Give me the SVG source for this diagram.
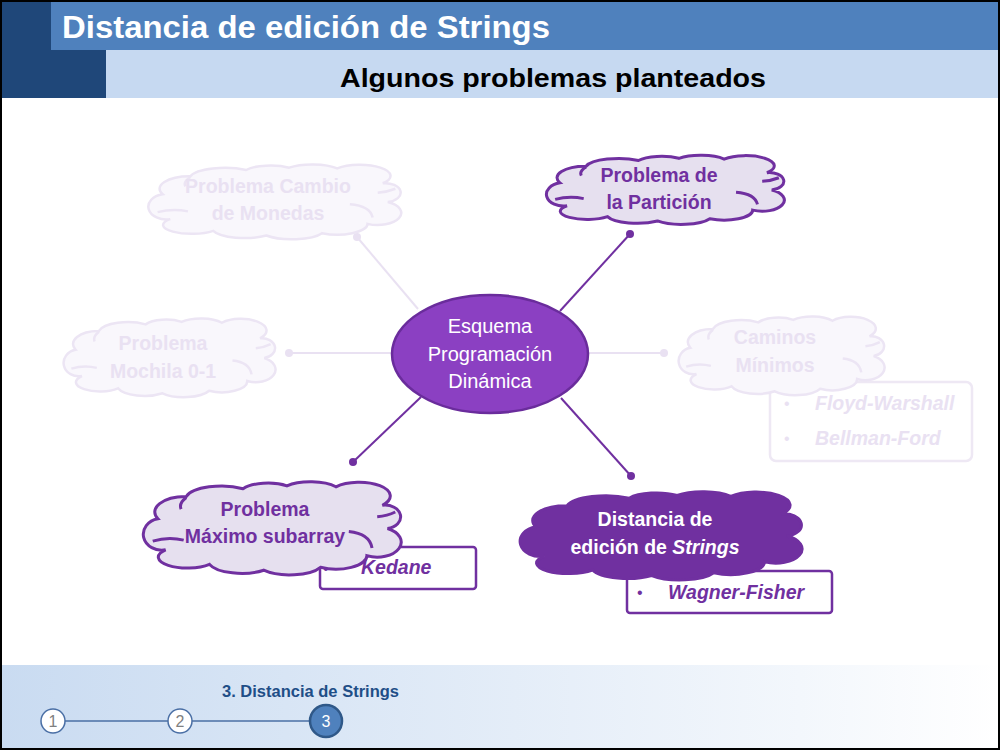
<svg xmlns="http://www.w3.org/2000/svg" xmlns:xlink="http://www.w3.org/1999/xlink" width="1000" height="750" viewBox="0 0 1000 750">
<style>
.t{font-family:"Liberation Sans",Arial,sans-serif;}
.act{fill:#E6E0EF;stroke:#7030A0;stroke-width:3;}
.fad{fill:#F9F7FC;stroke:#ECE5F4;stroke-width:2.5;}
.dark{fill:#7030A0;stroke:#7030A0;stroke-width:3;}
.ia{fill:none;stroke:#7030A0;stroke-width:3;}
.if{fill:none;stroke:#ECE5F4;stroke-width:2.5;}
.lbl{font-family:"Liberation Sans",Arial,sans-serif;font-weight:bold;font-size:19.5px;text-anchor:middle;}
.pa{fill:#7030A0;}
.pf{fill:#E9E1F2;}
.box{fill:#FFFFFF;stroke:#7030A0;stroke-width:2.5;}
.boxf{fill:#FFFFFF;stroke:#EEE8F4;stroke-width:2.5;}
.li{font-family:"Liberation Sans",Arial,sans-serif;font-weight:bold;font-style:italic;font-size:19.5px;}
.con{stroke-width:2;fill:none;}
</style>
<defs>
<path id="cloud" vector-effect="non-scaling-stroke" d="M 5,40 A 12 16 0 0 1 16,17 A 14 14 0 0 1 38,9 A 11 11 0 0 1 55,6 A 12 12 0 0 1 74,7 A 11 13 0 0 1 92,26 A 6 12 0 0 1 94,50 A 9 15 0 0 1 86,78 A 12 14 0 0 1 68,90 A 13 13 0 0 1 46,93 A 13 13 0 0 1 25,87 A 11 11 0 0 1 8,72 A 7 16 0 0 1 5,40 Z"/>
<path id="inner" vector-effect="non-scaling-stroke" d="M 3,63 Q 9,58 15,62 M 16,18 Q 13,24 14,30 M 79,53 Q 87,55 88,70 M 90,38 Q 94,37 97,33"/>
<linearGradient id="foot" x1="0" y1="0" x2="1" y2="0">
<stop offset="0" stop-color="#C9DBF1"/>
<stop offset="0.8" stop-color="#F3F7FC"/>
<stop offset="1" stop-color="#FFFFFF"/>
</linearGradient>
</defs>
<rect x="0" y="0" width="1000" height="750" fill="#FFFFFF"/>
<g id="header">
<rect x="0" y="0" width="106" height="98" fill="#1F4779"/>
<rect x="51" y="0" width="949" height="50" fill="#4F81BD"/>
<rect x="106" y="50" width="894" height="48" fill="#C6D9F1"/>
<text class="t" x="62" y="38" font-size="31" font-weight="bold" fill="#FFFFFF" textLength="488" lengthAdjust="spacingAndGlyphs">Distancia de edición de Strings</text>
<text class="t" x="340" y="87" font-size="26" font-weight="bold" fill="#000000" textLength="426" lengthAdjust="spacingAndGlyphs">Algunos problemas planteados</text>
</g>
<g id="connectors">
<line class="con" x1="560" y1="311" x2="630" y2="234" stroke="#7030A0"/>
<circle cx="630" cy="234" r="4" fill="#7030A0"/>
<line class="con" x1="418" y1="309" x2="357" y2="237" stroke="#E9E1F2"/>
<circle cx="357" cy="237" r="4" fill="#E9E1F2"/>
<line class="con" x1="392" y1="353" x2="289" y2="353" stroke="#E9E1F2"/>
<circle cx="289" cy="353" r="4" fill="#E9E1F2"/>
<line class="con" x1="589" y1="353" x2="664" y2="353" stroke="#E9E1F2"/>
<circle cx="664" cy="353" r="4" fill="#E9E1F2"/>
<line class="con" x1="421" y1="397" x2="353" y2="462" stroke="#7030A0"/>
<circle cx="353" cy="462" r="4" fill="#7030A0"/>
<line class="con" x1="561" y1="398" x2="631" y2="476" stroke="#7030A0"/>
<circle cx="631" cy="476" r="4" fill="#7030A0"/>
</g>
<g id="center">
<ellipse cx="490" cy="354" rx="98" ry="59" fill="#8B40C2" stroke="#6A2C9C" stroke-width="2.5"/>
<text class="t" font-size="20" fill="#FFFFFF" text-anchor="middle"><tspan x="490" y="333">Esquema</tspan><tspan x="490" y="361">Programación</tspan><tspan x="490" y="388">Dinámica</tspan></text>
</g>
<g id="particion">
<g transform="translate(548,154) scale(2.38,0.72)"><use xlink:href="#cloud" class="act"/><use xlink:href="#inner" class="ia"/></g>
<text class="lbl pa"><tspan x="659" y="182">Problema de</tspan><tspan x="659" y="209">la Partición</tspan></text>
</g>
<g id="cambio">
<g transform="translate(150,163) scale(2.53,0.78)"><use xlink:href="#cloud" class="fad"/><use xlink:href="#inner" class="if"/></g>
<text class="lbl pf"><tspan x="268" y="193">Problema Cambio</tspan><tspan x="268" y="220">de Monedas</tspan></text>
</g>
<g id="mochila">
<g transform="translate(65,317) scale(2.12,0.82)"><use xlink:href="#cloud" class="fad"/><use xlink:href="#inner" class="if"/></g>
<text class="lbl pf"><tspan x="163" y="350">Problema</tspan><tspan x="163" y="378">Mochila 0-1</tspan></text>
</g>
<g id="caminos">
<rect class="boxf" x="770" y="382" width="202" height="79" rx="6"/>
<g transform="translate(680,315) scale(2.06,0.82)"><use xlink:href="#cloud" class="fad"/><use xlink:href="#inner" class="if"/></g>
<text class="lbl pf"><tspan x="775" y="344">Caminos</tspan><tspan x="775" y="372">Mínimos</tspan></text>
<text class="t pf" x="784" y="409" font-size="16">•</text>
<text class="li pf" x="815" y="410">Floyd-Warshall</text>
<text class="t pf" x="784" y="444" font-size="16">•</text>
<text class="li pf" x="815" y="445">Bellman-Ford</text>
</g>
<g id="maximo">
<rect class="box" x="320" y="547" width="156" height="42" rx="3"/>
<text class="t pa" x="323" y="574" font-size="16">•</text>
<text class="li pa" x="361" y="574">Kedane</text>
<g transform="translate(145,480) scale(2.58,0.97)"><use xlink:href="#cloud" class="act"/><use xlink:href="#inner" class="ia"/></g>
<text class="lbl pa"><tspan x="265" y="516">Problema</tspan><tspan x="265" y="543">Máximo subarray</tspan></text>
</g>
<g id="distancia">
<rect class="box" x="627" y="571" width="205" height="42" rx="3"/>
<text class="t pa" x="637" y="598" font-size="16">•</text>
<text class="li pa" x="668" y="599" font-size="19px">Wagner-Fisher</text>
<g transform="translate(522,490) scale(2.82,0.92)"><use xlink:href="#cloud" class="dark"/></g>
<text class="lbl" fill="#FFFFFF"><tspan x="655" y="526">Distancia de</tspan><tspan x="655" y="554">edición de <tspan font-style="italic">Strings</tspan></tspan></text>
</g>
<g id="footer">
<rect x="0" y="665" width="1000" height="85" fill="url(#foot)"/>
<text class="t" x="222" y="697" font-size="16.5" font-weight="bold" fill="#1F4E87">3. Distancia de Strings</text>
<line x1="65" y1="721" x2="168" y2="721" stroke="#4A6FA5" stroke-width="1.5"/>
<line x1="192" y1="721" x2="310" y2="721" stroke="#4A6FA5" stroke-width="1.5"/>
<circle cx="53" cy="721" r="12" fill="#FFFFFF" stroke="#4A6FA5" stroke-width="1.5"/>
<text class="t" x="53" y="727" font-size="16" fill="#7F7F7F" text-anchor="middle">1</text>
<circle cx="180" cy="721" r="12" fill="#FFFFFF" stroke="#4A6FA5" stroke-width="1.5"/>
<text class="t" x="180" y="727" font-size="16" fill="#7F7F7F" text-anchor="middle">2</text>
<circle cx="326" cy="721" r="16" fill="#4F81BD" stroke="#2F5888" stroke-width="2.5"/>
<text class="t" x="326" y="727" font-size="16" fill="#FFFFFF" text-anchor="middle">3</text>
</g>
<rect x="1" y="1" width="998" height="748" fill="none" stroke="#000000" stroke-width="2"/>
</svg>
